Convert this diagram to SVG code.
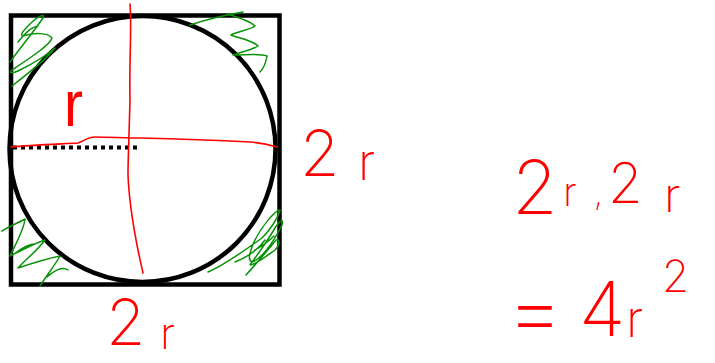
<svg xmlns="http://www.w3.org/2000/svg" width="715" height="363" viewBox="0 0 715 363">
<style>
.ink{fill:none;stroke:#ff0000;stroke-width:1.6;stroke-linecap:round;stroke-linejoin:round}
.grn{fill:none;stroke:#079207;stroke-width:1.5;stroke-linecap:round;stroke-linejoin:round}
.hw{font-family:Inter,"Liberation Sans",sans-serif;font-weight:200;fill:#ff0000}
</style>
<rect width="715" height="363" fill="#ffffff"/>
<g id="square"><rect x="11" y="15.5" width="268.5" height="269" fill="none" stroke="#000" stroke-width="4.5"/></g>
<g id="circle"><circle cx="142.5" cy="149" r="133" fill="none" stroke="#000" stroke-width="4.5"/></g>
<g id="radius"><line x1="13" y1="147.5" x2="137" y2="147.5" stroke="#000" stroke-width="4" stroke-dasharray="4 4"/></g>
<g id="label-r"><text x="64" y="126" font-family="Liberation Sans,sans-serif" font-size="64" fill="#ff0000" textLength="19" lengthAdjust="spacingAndGlyphs">r</text></g>
<g id="connectors">
<path class="ink" d="M130,4 C132,30 129,60 130,100 C129,140 128,160 128,175 C129,200 134,230 138,250 C140,260 142,268 143,273"/>
<path class="ink" d="M11,147 C30,145 60,144 78,143 C84,141 88,137 95,137 C110,137 125,138 140,138 C180,139 230,141 250,142 C262,143 270,145 277,147"/>
</g>
<g id="hatch-tl"><path class="grn" d="M10,62 C20,48 35,30 43,18 C46,13 38,16 30,24 C22,32 20,35 23,36 C35,32 48,33 52,38 C50,45 30,58 12,70 C8,73 12,74 20,70 C32,64 48,54 55,48 C50,55 30,72 12,86 M18,42 C28,30 32,27 38,26"/></g>
<g id="hatch-tr"><path class="grn" d="M190,25 C205,20 225,15 243,12 M228,14 C240,18 252,22 255,26 C250,30 238,31 231,35 C238,38 252,40 258,46 C252,50 240,52 233,55 C245,55 260,53 267,56 C266,62 264,68 260,72"/></g>
<g id="hatch-bl"><path class="grn" d="M2,231 C10,226 20,222 25,219 C24,230 15,245 10,256 C20,251 38,242 45,240 C38,250 25,260 18,268 C30,264 50,258 60,256 C55,265 47,275 40,286 M14,254 C22,248 30,244 34,244 M47,277 C55,270 62,266 68,270"/></g>
<g id="hatch-br"><path class="grn" d="M208,272 C225,265 245,250 262,238 C270,230 278,218 280,210 C276,210 262,225 254,242 C250,252 247,260 252,262 C260,260 272,245 282,225 C284,218 280,220 275,228 C265,245 252,262 250,265 C255,265 268,255 275,250 C280,245 280,238 276,240 C268,250 255,265 246,275 M235,262 C245,258 258,250 265,240 M255,250 C262,246 270,240 274,236"/></g>
<g id="eq1"><text class="hw"><tspan x="300" y="176" font-size="64">2</tspan><tspan x="358" y="180" font-size="50">r</tspan></text></g>
<g id="eq2"><text class="hw"><tspan x="106" y="345" font-size="64">2</tspan><tspan x="160" y="349" font-size="44">r</tspan></text></g>
<g id="eq3"><text class="hw"><tspan x="512" y="214" font-size="74">2</tspan><tspan x="563" y="206" font-size="40">r</tspan><tspan x="594" y="205" font-size="32">,</tspan><tspan x="608" y="203" font-size="56">2</tspan><tspan x="664" y="212" font-size="48">r</tspan></text></g>
<g id="eq4"><text class="hw"><tspan x="506" y="342" font-size="90">=</tspan><tspan x="579" y="336" font-size="76">4</tspan><tspan x="626" y="337" font-size="50">r</tspan><tspan x="662" y="292" font-size="44">2</tspan></text></g>
</svg>
